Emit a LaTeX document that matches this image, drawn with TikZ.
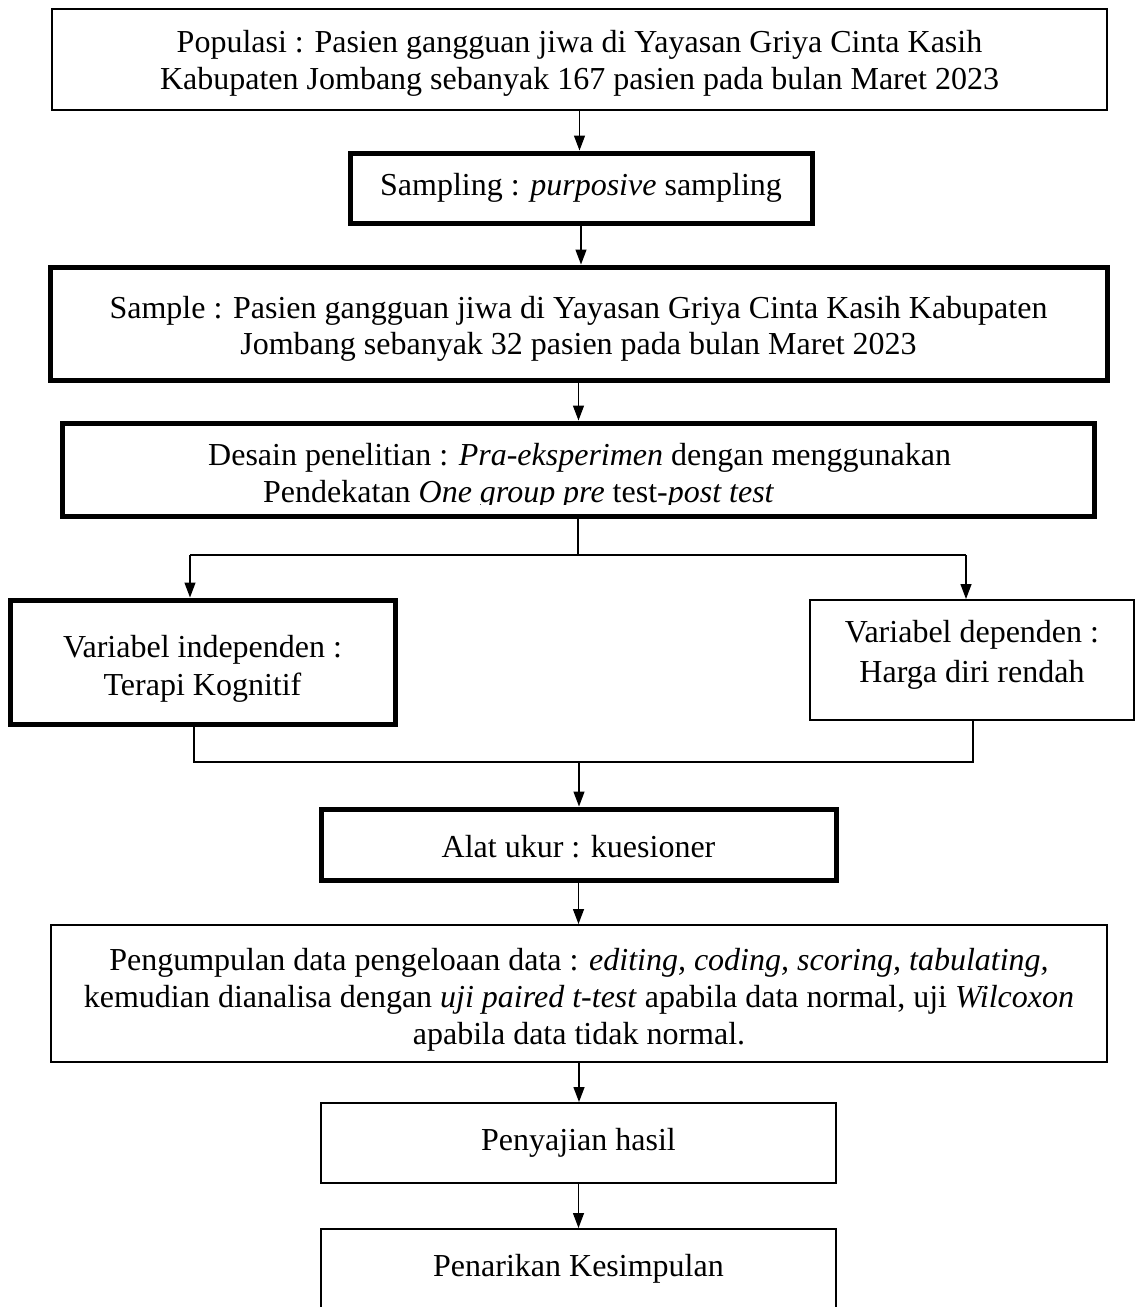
\documentclass[tikz,border=0pt]{standalone}
\usepackage{fontspec}
\setmainfont{Liberation Serif}
\usetikzlibrary{arrows.meta}
\newcommand\diafont{\fontsize{32}{36}\selectfont}
\newcommand\shiftv[2]{\raisebox{#1}[\height][\depth]{#2}}
\newcommand\lines[2]{{\fontsize{32}{#1}\selectfont\begin{tabular}{@{}c@{}}#2\end{tabular}}}
\begin{document}
\begin{tikzpicture}[x=1pt,y=-1pt,
  thinbox/.style={draw, line width=2pt, rectangle, inner sep=0pt, align=center, font=\diafont},
  thickbox/.style={thinbox, line width=5pt},
  conn/.style={line width=1.3pt},
  arr/.style={conn, -{Triangle[length=15pt,width=11pt]}},
  txt/.style={inner sep=0pt, font=\diafont}
]
\useasboundingbox (0,0) rectangle (1135,1307);

\node[thinbox, minimum width=1055pt, minimum height=101pt] (pop) at (579.5,59.5)
  {\shiftv{-4pt}{\lines{37}{Populasi : Pasien gangguan jiwa di Yayasan Griya Cinta Kasih\\Kabupaten Jombang sebanyak 167 pasien pada bulan Maret 2023}}};

\node[thickbox, minimum width=462pt, minimum height=70pt] (samp) at (581,188)
  {Sampling : \textit{purposive} sampling};

\node[thickbox, minimum width=1057pt, minimum height=113pt] (sample) at (578.5,323.5)
  {\shiftv{-6pt}{\lines{36}{Sample : Pasien gangguan jiwa di Yayasan Griya Cinta Kasih Kabupaten\\Jombang sebanyak 32 pasien pada bulan Maret 2023}}};

\node[thickbox, minimum width=1032pt, minimum height=93pt] (desain) at (578,469.5) {};
\begin{scope}
  \clip (70,430) rectangle (1085,504);
  \node[txt, anchor=north west] (desaintxt) at (208,439)
    {\fontsize{32}{37}\selectfont\begin{tabular}{@{}l@{}}Desain penelitian : \textit{Pra-eksperimen} dengan menggunakan\\\hspace*{55pt}Pendekatan \textit{One group pre} test-\textit{post test}\end{tabular}};
\end{scope}

\node[thickbox, minimum width=385pt, minimum height=124pt] (indep) at (202.5,662)
  {\shiftv{-7pt}{\lines{38}{Variabel independen :\\Terapi Kognitif}}};

\node[thinbox, minimum width=324pt, minimum height=120pt] (dep) at (972,660)
  {\shiftv{6pt}{\lines{40}{Variabel dependen :\\Harga diri rendah}}};

\node[thickbox, minimum width=515pt, minimum height=71pt] (alat) at (578.5,844.5)
  {\shiftv{-2pt}{Alat ukur : kuesioner}};

\node[thinbox, minimum width=1056pt, minimum height=137pt] (peng) at (579,993.5)
  {\shiftv{-7pt}{\lines{37}{Pengumpulan data pengeloaan data : \textit{editing, coding, scoring, tabulating,}\\kemudian dianalisa dengan \textit{uji paired t-test} apabila data normal, uji \textit{Wilcoxon}\\apabila data tidak normal.}}};

\node[thinbox, minimum width=515pt, minimum height=80pt] (saji) at (578.5,1143)
  {Penyajian hasil};

\node[thinbox, minimum width=515pt, minimum height=100pt] (tarik) at (578.5,1279)
  {\shiftv{10pt}{Penarikan Kesimpulan}};

% connectors
\draw[arr] (pop.south) -- (pop.south |- samp.north);
\draw[arr] (samp.south) -- (samp.south |- sample.north);
\draw[arr] (sample.south) -- (sample.south |- desain.north);

\coordinate (split) at (579,555);
\coordinate (bl) at (190,555);
\coordinate (br) at (966,555);
\draw[conn] (desain.south) -- (desain.south |- split);
\draw[conn] (bl) -- (br);
\draw[arr] (bl) -- (bl |- indep.north);
\draw[arr] (br) -- (br |- dep.north);

\coordinate (ml) at (194,762);
\coordinate (mr) at (973,762);
\coordinate (mc) at (579,762);
\draw[conn] (ml |- indep.south) -- (ml) -- (mr) -- (mr |- dep.south);
\draw[arr] (mc) -- (mc |- alat.north);

\draw[arr] (alat.south) -- (alat.south |- peng.north);
\draw[arr] (peng.south) -- (peng.south |- saji.north);
\draw[arr] (saji.south) -- (saji.south |- tarik.north);
\end{tikzpicture}
\end{document}
